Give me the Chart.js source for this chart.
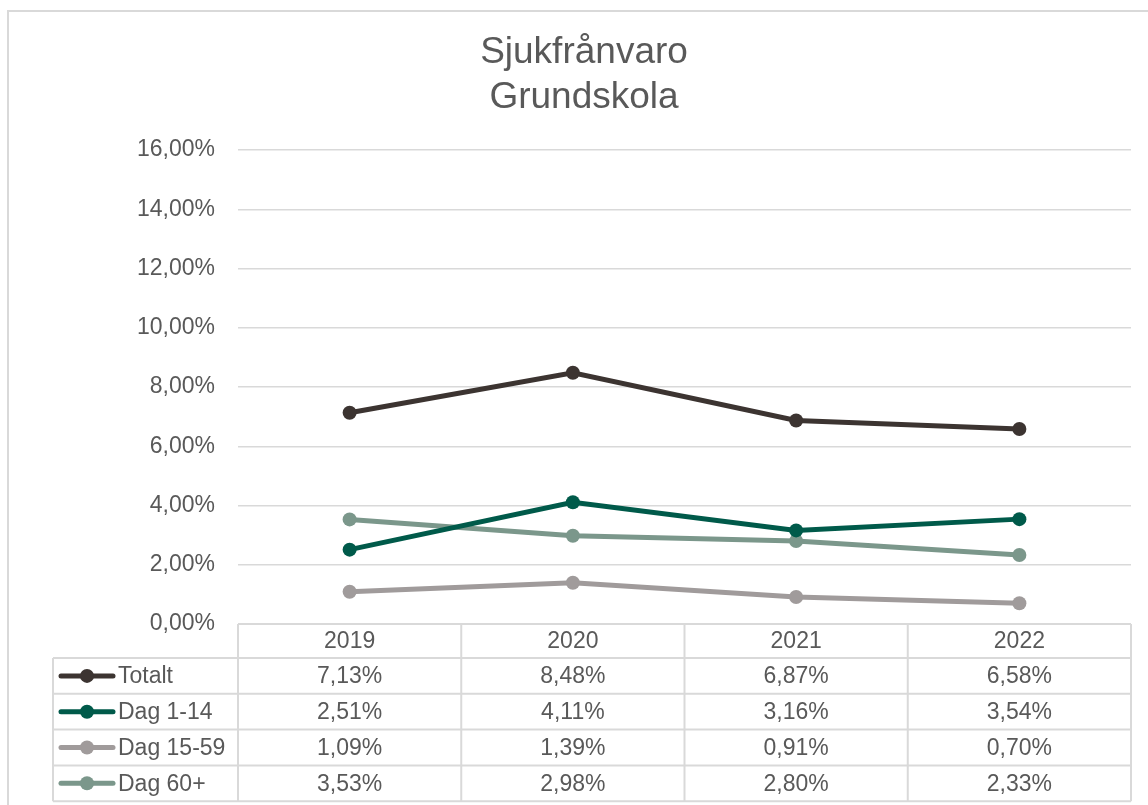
<!DOCTYPE html>
<html>
<head>
<meta charset="utf-8">
<script src="https://cdn.jsdelivr.net/npm/chart.js@4"></script>
<style>
  body { margin: 0; background: #fff; }
  canvas { display: block; }
</style>
</head>
<body>
<canvas id="myChart" width="1148" height="805"></canvas>
<script>
let years = ['2019', '2020', '2021', '2022'];
let totalt = [7.13, 8.48, 6.87, 6.58];
let dag1_14 = [2.51, 4.11, 3.16, 3.54];
let dag15_59 = [1.09, 1.39, 0.91, 0.70];
let dag60 = [3.53, 2.98, 2.80, 2.33];
let titleLines = ['Sjukfrånvaro', 'Grundskola'];

let textColor = '#595959';
let lineColor = '#d9d9d9';
let fontFamily = '"Liberation Sans", Arial, sans-serif';

function pct(v) {
    return v.toFixed(2).replace('.', ',') + '%';
}

function makeSet(label, data, color) {
    return {
        label: label,
        data: data,
        borderColor: color,
        backgroundColor: color,
        borderWidth: 5,
        pointRadius: 7,
        pointHoverRadius: 7,
        pointBorderWidth: 0,
        tension: 0,
    };
}

// frame, title and the data table under the plot
let tablePlugin = {
    id: 'tablePlugin',
    beforeDraw(chart) {
        let c = chart.ctx;
        c.save();
        c.strokeStyle = lineColor;
        c.lineWidth = 2;
        c.strokeRect(8, 11, 1160, 820);
        c.restore();
    },
    afterDraw(chart) {
        let c = chart.ctx;
        let area = chart.chartArea;
        let x = chart.scales.x;
        let n = years.length;
        let colW = (area.right - area.left) / n;
        let tableLeft = 53;
        let headTop = area.bottom;
        let headH = 34;
        let rowH = 35.8;
        let sets = chart.data.datasets;
        let bottom = headTop + headH + rowH * sets.length;

        c.save();
        // title
        c.fillStyle = textColor;
        c.textAlign = 'center';
        c.textBaseline = 'middle';
        c.font = '37px ' + fontFamily;
        titleLines.forEach((t, i) => c.fillText(t, 584, 53 + i * 45));

        // grid lines of the table
        c.strokeStyle = lineColor;
        c.lineWidth = 2;
        c.beginPath();
        c.moveTo(area.left, headTop);
        c.lineTo(area.right, headTop);
        for (let r = 0; r <= sets.length; r++) {
            let y = headTop + headH + r * rowH;
            c.moveTo(tableLeft, y);
            c.lineTo(area.right, y);
        }
        for (let i = 0; i <= n; i++) {
            let xx = area.left + i * colW;
            c.moveTo(xx, headTop);
            c.lineTo(xx, bottom);
        }
        c.moveTo(tableLeft, headTop + headH);
        c.lineTo(tableLeft, bottom);
        c.stroke();

        // header and values
        c.font = '23px ' + fontFamily;
        c.fillStyle = textColor;
        c.textAlign = 'center';
        years.forEach((y, i) => {
            c.fillText(y, x.getPixelForValue(i), headTop + headH / 2 + 1);
        });
        sets.forEach((ds, r) => {
            let cy = headTop + headH + r * rowH + rowH / 2 + 1;
            ds.data.forEach((v, i) => {
                c.fillStyle = textColor;
                c.textAlign = 'center';
                c.fillText(pct(v), x.getPixelForValue(i), cy);
            });
            // legend key
            c.strokeStyle = ds.borderColor;
            c.lineWidth = 5;
            c.lineCap = 'round';
            c.beginPath();
            c.moveTo(61, cy - 1);
            c.lineTo(113, cy - 1);
            c.stroke();
            c.fillStyle = ds.borderColor;
            c.beginPath();
            c.arc(87, cy - 1, 7, 0, Math.PI * 2);
            c.fill();
            c.fillStyle = textColor;
            c.textAlign = 'left';
            c.fillText(ds.label, 118, cy);
        });
        c.restore();
    }
};

let ctx = document.getElementById('myChart').getContext('2d');
let myChart = new Chart(ctx, {
    type: 'line',
    data: {
        labels: years,
        datasets: [
            makeSet('Totalt', totalt, '#3c3431'),
            makeSet('Dag 1-14', dag1_14, '#005a4a'),
            makeSet('Dag 15-59', dag15_59, '#a09b9b'),
            makeSet('Dag 60+', dag60, '#7b978b'),
        ]
    },
    options: {
        responsive: false,
        animation: false,
        maintainAspectRatio: false,
        layout: {
            padding: { top: 150, right: 17, bottom: 181, left: 0 }
        },
        plugins: {
            legend: { display: false },
            title: { display: false },
            tooltip: { enabled: false }
        },
        scales: {
            x: {
                display: false,
                offset: true
            },
            y: {
                min: 0,
                max: 16,
                afterFit(scale) { scale.width = 238; },
                border: { display: false },
                grid: { color: lineColor, lineWidth: 1.5, drawTicks: false },
                ticks: {
                    stepSize: 2,
                    padding: 23,
                    color: textColor,
                    font: { family: fontFamily, size: 23 },
                    callback: v => pct(v)
                }
            }
        }
    },
    plugins: [tablePlugin]
});
</script>
</body>
</html>
